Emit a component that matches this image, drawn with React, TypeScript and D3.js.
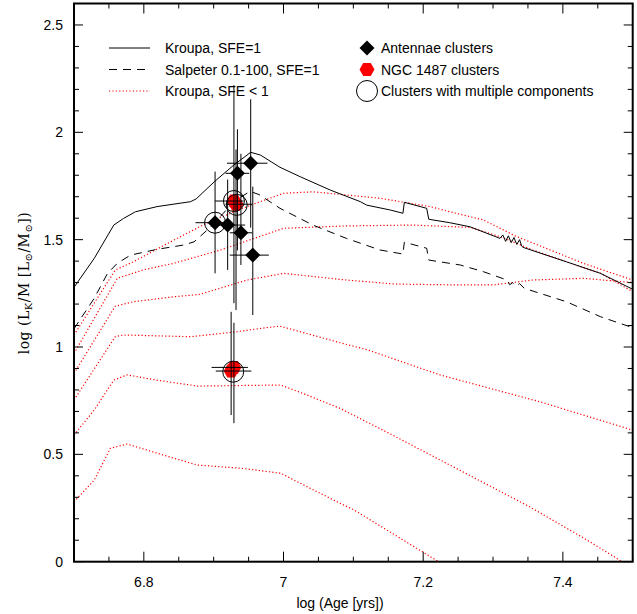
import React from "react";
import * as d3 from "d3";

const W = 637;
const H = 614;

// Model curves [log age, log(L_K/M)]
const kroupaSFE1: [number, number][] = [
  [6.7, 1.278], [6.729, 1.413], [6.757, 1.568], [6.771, 1.599], [6.788, 1.63], [6.819, 1.654],
  [6.867, 1.677], [6.875, 1.69], [6.901, 1.77], [6.929, 1.848], [6.953, 1.907], [6.967, 1.894],
  [6.995, 1.837], [7.024, 1.793], [7.067, 1.731], [7.11, 1.677], [7.119, 1.661], [7.153, 1.638],
  [7.171, 1.623], [7.173, 1.674], [7.205, 1.646], [7.208, 1.595], [7.238, 1.579], [7.267, 1.56],
  [7.31, 1.506], [7.314, 1.522], [7.318, 1.492], [7.322, 1.518], [7.326, 1.486], [7.330, 1.510],
  [7.334, 1.478], [7.338, 1.500], [7.341, 1.47], [7.343, 1.464], [7.405, 1.397], [7.454, 1.343],
  [7.5, 1.269],
];

const salpeterSFE1: [number, number][] = [
  [6.7, 1.085], [6.729, 1.227], [6.748, 1.343], [6.762, 1.39], [6.781, 1.428], [6.819, 1.455],
  [6.857, 1.475], [6.872, 1.49], [6.896, 1.56], [6.93, 1.68], [6.952, 1.725], [6.965, 1.71],
  [6.995, 1.646], [7.042, 1.568], [7.09, 1.506], [7.138, 1.452], [7.171, 1.433], [7.173, 1.488],
  [7.205, 1.46], [7.208, 1.405], [7.253, 1.382], [7.286, 1.351], [7.32, 1.312], [7.324, 1.29],
  [7.328, 1.30], [7.333, 1.285], [7.338, 1.295], [7.345, 1.273], [7.405, 1.211], [7.454, 1.141],
  [7.5, 1.09],
];

const kroupaLowA: [number, number][] = [
  [6.7, 1.056], [6.759, 1.358], [6.785, 1.397], [6.843, 1.498], [6.89, 1.577], [6.953, 1.661],
  [7.0, 1.716], [7.042, 1.723], [7.138, 1.693], [7.21, 1.654], [7.238, 1.63], [7.286, 1.592],
  [7.334, 1.514], [7.382, 1.452], [7.429, 1.39], [7.5, 1.312],
];
const kroupaLowB: [number, number][] = [
  [6.7, 0.97], [6.762, 1.32], [6.8, 1.36], [6.843, 1.39], [6.91, 1.452], [7.0, 1.553],
  [7.09, 1.564], [7.185, 1.568], [7.267, 1.557], [7.31, 1.514], [7.357, 1.452], [7.405, 1.397],
  [7.454, 1.343], [7.5, 1.258],
];
const kroupaLowC: [number, number][] = [
  [6.7, 0.877], [6.759, 1.19], [6.785, 1.211], [6.843, 1.234], [6.88, 1.245], [6.948, 1.312],
  [7.0, 1.343], [7.09, 1.312], [7.161, 1.293], [7.253, 1.289], [7.3, 1.289], [7.357, 1.312],
  [7.43, 1.32], [7.5, 1.30],
];
const kroupaLowD: [number, number][] = [
  [6.7, 0.753], [6.759, 1.048], [6.771, 1.056], [6.867, 1.048], [6.93, 1.07], [6.975, 1.09],
  [6.995, 1.097], [7.081, 1.02], [7.121, 0.986], [7.224, 0.87], [7.367, 0.745], [7.5, 0.613],
];
const kroupaLowE: [number, number][] = [
  [6.7, 0.59], [6.729, 0.707], [6.757, 0.846], [6.776, 0.87], [6.82, 0.845], [6.877, 0.818],
  [6.996, 0.823], [7.034, 0.776], [7.081, 0.714], [7.15, 0.6], [7.25, 0.43], [7.35, 0.26],
  [7.43, 0.11], [7.49, -0.01],
];
const kroupaLowF: [number, number][] = [
  [6.7, 0.279], [6.729, 0.38], [6.752, 0.528], [6.776, 0.548], [6.843, 0.482], [6.877, 0.45],
  [6.94, 0.435], [6.996, 0.412], [7.034, 0.349], [7.081, 0.272], [7.101, 0.241], [7.222, 0.0],
  [7.24, -0.03],
];
const kroupaLowCurves = [kroupaLowA, kroupaLowB, kroupaLowC, kroupaLowD, kroupaLowE, kroupaLowF];

// Observed clusters: [x, y, xlo, xhi, ylo, yhi]
const antennaeClusters: number[][] = [
  [6.953, 1.856, 6.919, 6.977, 1.556, 2.154],
  [6.934, 1.809, 6.917, 6.951, 1.45, 2.014],
  [6.902, 1.579, 6.874, 6.917, 1.343, 1.817],
  [6.920, 1.568, 6.905, 6.945, 1.359, 1.78],
  [6.939, 1.532, 6.923, 6.955, 1.382, 1.9],
  [6.956, 1.428, 6.923, 6.979, 1.149, 1.747],
];
const ngc1487Clusters: number[][] = [
  [6.929, 1.68, 6.902, 6.943, 1.204, 2.22],
  [6.932, 1.665, 6.917, 6.955, 1.172, 1.92],
  [6.925, 0.888, 6.903, 6.954, 0.683, 1.164],
  [6.929, 0.905, 6.897, 6.949, 0.645, 1.113],
];
const multiComponent: [number, number][] = [
  [6.902, 1.579], [6.929, 1.68], [6.933, 1.662], [6.928, 0.885],
];

const xTickLabels = [6.8, 7, 7.2, 7.4];
const yTickLabels = [0, 0.5, 1, 1.5, 2, 2.5];

const legendLines = ["Kroupa, SFE=1", "Salpeter 0.1-100, SFE=1", "Kroupa, SFE < 1"];
const legendMarks = ["Antennae clusters", "NGC 1487 clusters", "Clusters with multiple components"];

const L = 74, R = 632.7, T = 3.5, B = 561.7;
const FONT = "'Liberation Sans', Arial, Helvetica, sans-serif";
const DOTS = "1.2,2.2";

function diamondPath(cx: number, cy: number, r: number) {
  return `M${cx},${cy - r}L${cx + r},${cy}L${cx},${cy + r}L${cx - r},${cy}Z`;
}
function hexPath(cx: number, cy: number, r: number) {
  const pts = d3.range(6).map((i) => {
    const a = (Math.PI / 3) * i;
    return [cx + r * Math.cos(a), cy + r * Math.sin(a)];
  });
  return "M" + pts.map((p) => p.join(",")).join("L") + "Z";
}

export default function App() {
  const x = d3.scaleLinear().domain([6.7, 7.5]).range([L, R]);
  const y = d3.scaleLinear().domain([0, 2.6]).range([B, T]);
  const line = d3.line<[number, number]>().x((d) => x(d[0])).y((d) => y(d[1]));

  const xMinor = d3.range(6.7, 7.5001, 0.05).map((v) => +v.toFixed(3));
  const xMajor = [6.8, 7.0, 7.2, 7.4];
  const yMinor = d3.range(0, 2.6001, 0.1).map((v) => +v.toFixed(3));
  const yMajor = [0, 0.5, 1, 1.5, 2, 2.5];
  const isMajX = (v: number) => xMajor.some((m) => Math.abs(m - v) < 1e-6);
  const isMajY = (v: number) => yMajor.some((m) => Math.abs(m - v) < 1e-6);

  const errBars = (pts: number[][], key: string) =>
    pts.map((p, i) => (
      <g key={key + i} stroke="#000" strokeWidth={1}>
        <line x1={x(p[0])} x2={x(p[0])} y1={y(p[4])} y2={y(p[5])} />
        <line x1={x(p[2])} x2={x(p[3])} y1={y(p[1])} y2={y(p[1])} />
      </g>
    ));

  return (
    <svg width={W} height={H} style={{ position: "absolute", left: 0, top: 0, background: "#fff" }}>
      <defs>
        <clipPath id="plot">
          <rect x={L} y={T} width={R - L} height={B - T} />
        </clipPath>
      </defs>
      <rect x={0} y={0} width={W} height={H} fill="#fff" />
      <g clipPath="url(#plot)" fill="none">
        {kroupaLowCurves.map((c, i) => (
          <path key={i} d={line(c) || ""} stroke="#ff0000" strokeWidth={1.2} strokeDasharray={DOTS} />
        ))}
        <path d={line(salpeterSFE1) || ""} stroke="#000" strokeWidth={1} strokeDasharray="8,6" />
        <path d={line(kroupaSFE1) || ""} stroke="#000" strokeWidth={1} />
      </g>

      {/* markers */}
      {antennaeClusters.map((p, i) => (
        <path key={"a" + i} d={diamondPath(x(p[0]), y(p[1]), 7.5)} fill="#000" />
      ))}
      {ngc1487Clusters.map((p, i) => (
        <path key={"n" + i} d={hexPath(x(p[0]), y(p[1]), 7.5)} fill="#ff0000" />
      ))}
      {errBars(antennaeClusters, "ea")}
      {errBars(ngc1487Clusters, "en")}
      {multiComponent.map((p, i) => (
        <circle key={"c" + i} cx={x(p[0])} cy={y(p[1])} r={10.5} fill="none" stroke="#000" strokeWidth={1} />
      ))}

      {/* ticks */}
      <g stroke="#000" strokeWidth={1}>
        {xMinor.map((v) => {
          const len = isMajX(v) ? 10 : 5;
          return (
            <g key={"xt" + v}>
              <line x1={x(v)} x2={x(v)} y1={B} y2={B - len} />
              <line x1={x(v)} x2={x(v)} y1={T} y2={T + len} />
            </g>
          );
        })}
        {yMinor.map((v) => {
          const len = isMajY(v) ? 9 : 5;
          return (
            <g key={"yt" + v}>
              <line x1={L} x2={L + len} y1={y(v)} y2={y(v)} />
              <line x1={R} x2={R - len} y1={y(v)} y2={y(v)} />
            </g>
          );
        })}
      </g>
      <rect x={L} y={T} width={R - L} height={B - T} fill="none" stroke="#000" strokeWidth={2} />

      {/* tick labels */}
      <g fontFamily={FONT} fontSize={14} fill="#000">
        {xTickLabels.map((v) => (
          <text key={"xl" + v} x={x(v)} y={587} textAnchor="middle">{String(v)}</text>
        ))}
        {yTickLabels.map((v) => (
          <text key={"yl" + v} x={63} y={y(v) + 5} textAnchor="end">{String(v)}</text>
        ))}
        <text x={340} y={608} textAnchor="middle">log (Age [yrs])</text>
      </g>

      {/* y axis title */}
      <text
        transform={`translate(29,${283}) rotate(-90)`}
        textAnchor="middle"
        fontFamily="'DejaVu Serif', 'Liberation Serif', serif"
        fontSize={14}
        letterSpacing={0.5}
        fill="#000"
      >
        log (L<tspan fontSize={10} dy={3}>K</tspan><tspan dy={-3}>/M [L</tspan>
        <tspan fontSize={10} dy={3}>⊙</tspan><tspan dy={-3}>/M</tspan>
        <tspan fontSize={10} dy={3}>⊙</tspan><tspan dy={-3}>])</tspan>
      </text>

      {/* legend */}
      <g fontFamily={FONT} fontSize={14} fill="#000">
        {legendLines.map((t, i) => {
          const ly = 48 + i * 21.5;
          return (
            <g key={"ll" + i}>
              <line
                x1={109}
                x2={150}
                y1={ly}
                y2={ly}
                stroke={i === 2 ? "#ff0000" : "#000"}
                strokeWidth={i === 2 ? 1.2 : 1}
                strokeDasharray={i === 1 ? "8,6" : i === 2 ? DOTS : undefined}
              />
              <text x={165} y={ly + 5}>{t}</text>
            </g>
          );
        })}
        {legendMarks.map((t, i) => {
          const ly = 48 + i * 21.5;
          return (
            <g key={"lm" + i}>
              {i === 0 && <path d={diamondPath(367, ly, 7.5)} fill="#000" />}
              {i === 1 && <path d={hexPath(367, ly, 7.5)} fill="#ff0000" />}
              {i === 2 && <circle cx={367} cy={ly} r={10.5} fill="none" stroke="#000" strokeWidth={1} />}
              <text x={381} y={ly + 5}>{t}</text>
            </g>
          );
        })}
      </g>
    </svg>
  );
}
